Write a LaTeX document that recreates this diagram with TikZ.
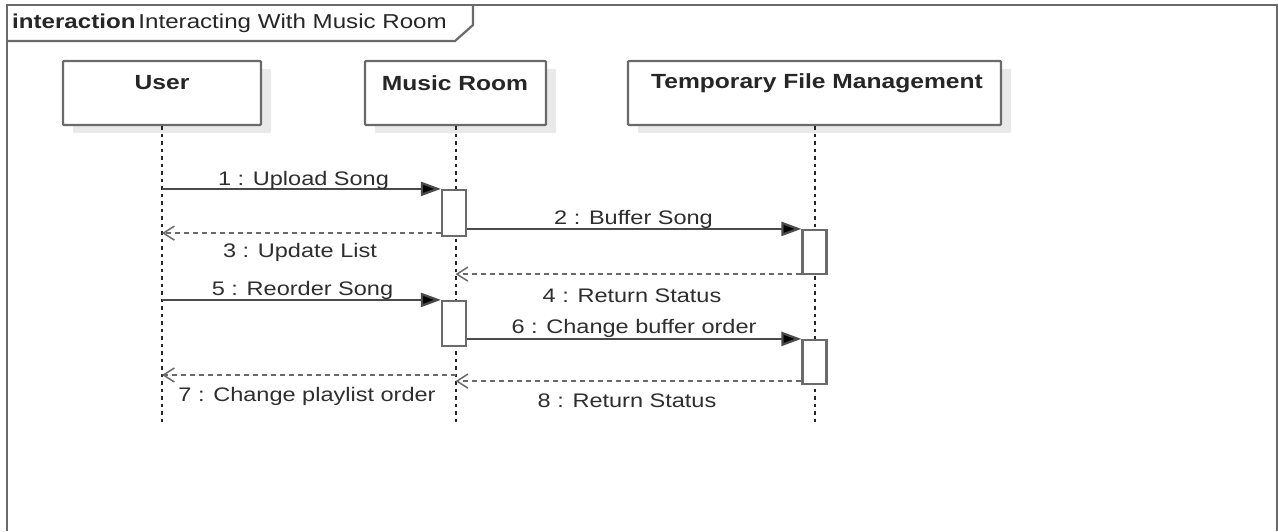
\documentclass[tikz,border=0pt]{standalone}
\usepackage{fontspec}
\setmainfont[FakeStretch=1.2]{Liberation Sans}
\usetikzlibrary{arrows.meta,shadows}
\definecolor{framegray}{HTML}{6A6A6A}
\definecolor{msggray}{HTML}{4A4A4A}
\definecolor{retgray}{HTML}{6A6A6A}
\definecolor{txtgray}{HTML}{2E2E2E}
\definecolor{shade}{HTML}{E9E9E9}
\tikzset{
  txt/.style={inner sep=0pt, text=txtgray, font=\fontsize{19.6}{22}\selectfont},
  headtxt/.style={inner sep=0pt, text=black!85, font=\fontsize{20.5}{23}\selectfont\bfseries},
  head/.style={draw=framegray, line width=2.2pt, fill=white, inner sep=0pt,
    minimum height=64pt, rounded corners=1pt,
    drop shadow={shadow xshift=10pt, shadow yshift=-8pt, fill=shade, opacity=1}},
  act/.style={draw=framegray, line width=2.2pt, fill=white, inner sep=0pt, minimum width=24pt},
  lifeline/.style={black!85, line width=2pt, dash pattern=on 3.5pt off 4pt},
  sync/.style={msggray, line width=2.3pt, -{Triangle[length=20pt,width=14pt,fill=black]}},
  ret/.style={retgray, line width=2pt, dash pattern=on 5pt off 4pt,
    -{Straight Barb[length=11pt,width=14pt,line width=1.5pt]}},
}
\begin{document}
\begin{tikzpicture}[x=1pt,y=-1pt]
\useasboundingbox (0,0) rectangle (1278,531);
\fill[white] (0,0) rectangle (1278,531);

% frame and its name tag
\draw[framegray, line width=2.6pt] (7,531) -- (7,5) -- (1277,5) -- (1277,531);
\draw[framegray, line width=2.2pt] (7,41) -- (455,41) -- (473,25) -- (473,5);
\node[anchor=west, inner sep=0pt, text=black!85, font=\fontsize{20.1}{23}\selectfont] (title) at (12,23)
  {\textbf{interaction}\hspace{3pt}Interacting With Music Room};

% lifeline heads
\node[head, minimum width=198pt] (user) at (162,93) {};
\node[head, minimum width=181pt] (music) at (455.5,93) {};
\node[head, minimum width=373pt] (tfm) at (814.5,93) {};
\node[headtxt] (userlbl) at (162,83) {User};
\node[headtxt] (musiclbl) at (455,83) {Music Room};
\node[headtxt] (tfmlbl) at (817,83) {Temporary File Management};

% lifelines
\coordinate (uend) at (user.south |- 0,425);
\coordinate (mend) at (music.south |- 0,425);
\coordinate (tend) at (tfm.south |- 0,425);
\draw[lifeline] (user.south) -- (uend);
\draw[lifeline] (music.south) -- (mend);
\draw[lifeline] (tfm.south) -- (tend);

% activation bars
\node[act, minimum height=46pt] (a1) at (454,213) {};
\node[act, minimum height=44pt] (a2) at (814.5,252) {};
\node[act, minimum height=45pt] (a3) at (454,323.5) {};
\node[act, minimum height=44pt] (a4) at (814.5,362) {};

% messages
\draw[sync] (a1.north west -| user) -- (a1.north west);
\draw[sync] (a2.north west -| a1.east) -- (a2.north west);
\path (a1.south west) ++(0,-4) coordinate (r3);
\draw[ret] (r3) -- (r3 -| user);
\path (a2.south west) ++(0,-1) coordinate (r4);
\draw[ret] (r4) -- (r4 -| music);
\draw[sync] (a3.north west -| user) -- (a3.north west);
\draw[sync] (a4.north west -| a3.east) -- (a4.north west);
\coordinate (r7) at (music.south |- 0,375);
\draw[ret] (r7) -- (r7 -| user);
\path (a4.south west) ++(0,-4) coordinate (r8);
\draw[ret] (r8) -- (r8 -| music);

% message labels
\node[txt] (l1) at (303.5,180) {1 : Upload Song};
\node[txt] (l2) at (633.5,219) {2 : Buffer Song};
\node[txt] (l3) at (300,252) {3 : Update List};
\node[txt] (l4) at (632,296) {4 : Return Status};
\node[txt] (l5) at (302.5,290) {5 : Reorder Song};
\node[txt] (l6) at (634,328) {6 : Change buffer order};
\node[txt] (l7) at (307,396) {7 : Change playlist order};
\node[txt] (l8) at (627,401) {8 : Return Status};
\end{tikzpicture}
\end{document}
